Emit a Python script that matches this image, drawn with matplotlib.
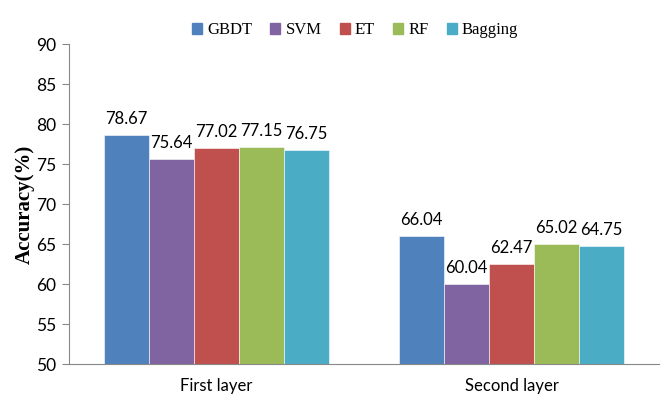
import numpy as np
import matplotlib.pyplot as plt
from matplotlib.patches import Patch

groups = ["First layer", "Second layer"]
models = ["GBDT", "SVM", "ET", "RF", "Bagging"]
accuracy = {
    "GBDT": [78.67, 66.04],
    "SVM": [75.64, 60.04],
    "ET": [77.02, 62.47],
    "RF": [77.15, 65.02],
    "Bagging": [76.75, 64.75],
}
colors = ["#4F81BD", "#8064A2", "#C0504D", "#9BBB59", "#4BACC6"]

fig = plt.figure(figsize=(6.69, 4.04), dpi=100)
ax = fig.add_axes([0.103, 0.099, 0.882, 0.792])

x = np.arange(len(groups))
width = 0.153
for i, m in enumerate(models):
    pos = x + (i - 2) * width
    ax.bar(pos, accuracy[m], width, color=colors[i], edgecolor="white",
           linewidth=0.4, label=m, zorder=2)
    for xp, v in zip(pos, accuracy[m]):
        ax.text(xp, v + 1.0, f"{v:.2f}", ha="center", va="bottom",
                fontsize=12, family="Lato")

ax.set_xlim(-0.5, 1.5)
ax.set_ylim(50, 90)
ax.set_yticks(range(50, 91, 5))
ax.set_xticks(x)
ax.set_xticklabels(groups, fontsize=12, family="Lato")
for lab in ax.get_yticklabels():
    lab.set_fontsize(12.5)
    lab.set_family("Lato")
ax.tick_params(axis="x", length=0, pad=10)
ax.tick_params(axis="y", color="#888888", length=5, pad=4)
ax.spines["top"].set_visible(False)
ax.spines["right"].set_visible(False)
ax.spines["left"].set_color("#888888")
ax.spines["bottom"].set_color("#888888")
ax.set_ylabel("Accuracy(%)", family="Liberation Serif", fontweight="bold",
              fontsize=15, labelpad=1)

handles = [Patch(color=c) for c in colors]
ax.legend(handles, models, loc="upper center", bbox_to_anchor=(0.485, 1.115),
          ncol=5, frameon=False, handlelength=0.6, handleheight=0.6,
          handletextpad=0.3, columnspacing=1.1,
          prop={"family": "Liberation Serif", "size": 12})

fig.savefig("out.png", dpi=100)
